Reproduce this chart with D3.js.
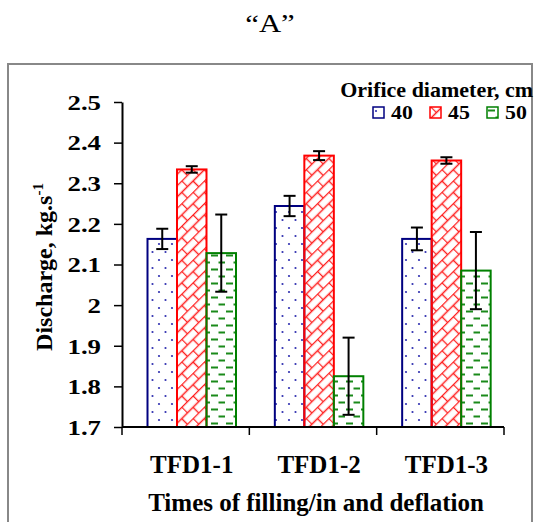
<!DOCTYPE html>
<html>
<head>
<meta charset="utf-8">
<script src="https://cdn.jsdelivr.net/npm/d3@7"></script>
<style>
  body { margin: 0; background: #fff; }
  svg { display: block; }
</style>
</head>
<body>
<script>
// discharge by orifice diameter

var categories = ['TFD1-1', 'TFD1-2', 'TFD1-3'],
    seriesNames = ['40', '45', '50'],
    values40 = [2.163, 2.244, 2.163],
    values45 = [2.334, 2.368, 2.356],
    values50 = [2.128, 1.825, 2.085],
    err40 = [0.025, 0.025, 0.028],
    err45 = [0.008, 0.011, 0.008],
    err50 = [0.095, 0.095, 0.095],
    yTicks = [1.7, 1.8, 1.9, 2, 2.1, 2.2, 2.3, 2.4, 2.5];

var colors = {'40': '#000080', '45': '#ff0000', '50': '#008000'};
var patterns = {'40': 'pDots', '45': 'pBrick', '50': 'pDash'};
var serif = '"Liberation Serif", "Times New Roman", Times, "DejaVu Serif", serif';

var width = 534, height = 522,
    plot = {left: 122, right: 504, top: 102, bottom: 427},
    groupOffset = 25.5, groupWidth = 88.5;

var svg = d3.select('body').append('svg')
  .attr('width', width)
  .attr('height', height)
  .style('font-family', serif);

// patterns
var defs = svg.append('defs');

var pd = defs.append('pattern').attr('id', 'pDots')
  .attr('patternUnits', 'userSpaceOnUse')
  .attr('width', 13).attr('height', 16);
pd.append('circle').attr('cx', 3).attr('cy', 4).attr('r', 1.1).attr('fill', '#3030b0');
pd.append('circle').attr('cx', 9.5).attr('cy', 12).attr('r', 1.1).attr('fill', '#3030b0');

var pb = defs.append('pattern').attr('id', 'pBrick')
  .attr('patternUnits', 'userSpaceOnUse')
  .attr('width', 16).attr('height', 16)
  .attr('patternTransform', 'rotate(-45)');
pb.append('path')
  .attr('d', 'M0,0.5H16M0,8.5H16M0.5,0V8M8.5,8V16')
  .attr('stroke', '#ff2020').attr('stroke-width', 1.4).attr('fill', 'none');

var pg = defs.append('pattern').attr('id', 'pDash')
  .attr('patternUnits', 'userSpaceOnUse')
  .attr('width', 15).attr('height', 14);
pg.append('path')
  .attr('d', 'M1,3.5H8M8.5,10.5H15')
  .attr('stroke', '#1a8a1a').attr('stroke-width', 2).attr('fill', 'none');

// outer frame
svg.append('rect')
  .attr('x', 8).attr('y', 64)
  .attr('width', 524).attr('height', 480)
  .attr('fill', 'none')
  .attr('stroke', '#888').attr('stroke-width', 2);

// title (slightly wide, like the original)
svg.append('text')
  .attr('transform', 'translate(270,32) scale(1.18,1)')
  .attr('text-anchor', 'middle')
  .style('font-family', serif)
  .style('font-size', '26px')
  .text('\u201CA\u201D');

var x0 = d3.scaleBand().domain(categories).range([plot.left, plot.right]);
var x1 = d3.scaleBand().domain(seriesNames).range([0, groupWidth]);
var y = d3.scaleLinear().domain([1.7, 2.5]).range([plot.bottom, plot.top]);

var rows = [];
categories.forEach(function(c, i) {
  rows.push({cat: c, s: '40', v: values40[i], e: err40[i]});
  rows.push({cat: c, s: '45', v: values45[i], e: err45[i]});
  rows.push({cat: c, s: '50', v: values50[i], e: err50[i]});
});

function bx(d) { return x0(d.cat) + groupOffset + x1(d.s); }

var g = svg.append('g');

// bars
g.selectAll('rect.bar').data(rows).enter().append('rect')
  .attr('class', 'bar')
  .attr('x', bx)
  .attr('y', function(d) { return y(d.v); })
  .attr('width', x1.bandwidth())
  .attr('height', function(d) { return y(1.7) - y(d.v); })
  .attr('fill', function(d) { return 'url(#' + patterns[d.s] + ')'; })
  .attr('stroke', function(d) { return colors[d.s]; })
  .attr('stroke-width', 2);

// error bars
var eb = g.selectAll('g.err').data(rows).enter().append('g')
  .attr('class', 'err')
  .attr('stroke', '#000').attr('stroke-width', 2);
eb.append('line')
  .attr('x1', function(d) { return bx(d) + x1.bandwidth() / 2; })
  .attr('x2', function(d) { return bx(d) + x1.bandwidth() / 2; })
  .attr('y1', function(d) { return y(d.v + d.e); })
  .attr('y2', function(d) { return y(d.v - d.e); });
eb.selectAll('line.cap').data(function(d) { return [d.v + d.e, d.v - d.e].map(function(v) { return {d: d, v: v}; }); })
  .enter().append('line')
  .attr('class', 'cap')
  .attr('x1', function(c) { return bx(c.d) + x1.bandwidth() / 2 - 6; })
  .attr('x2', function(c) { return bx(c.d) + x1.bandwidth() / 2 + 6; })
  .attr('y1', function(c) { return y(c.v); })
  .attr('y2', function(c) { return y(c.v); });

// y axis
var yAxis = svg.append('g')
  .attr('transform', 'translate(' + plot.left + ',0)')
  .call(d3.axisLeft(y).tickValues(yTicks).tickSize(8).tickSizeOuter(0)
    .tickFormat(function(d) { return d3.format('')(+d.toFixed(1)); }));
yAxis.attr('font-family', null);
yAxis.select('.domain').attr('stroke', '#000').attr('stroke-width', 2);
yAxis.selectAll('line').attr('stroke', '#000').attr('stroke-width', 1.5);
yAxis.selectAll('text')
  .attr('x', null)
  .attr('dy', '0.33em')
  .attr('transform', 'translate(-21,0) scale(1.22,1)')
  .style('font-family', serif)
  .style('font-size', '22px').style('font-weight', 'bold')
  .attr('fill', '#000');

// x axis
var xAxis = svg.append('g')
  .attr('transform', 'translate(0,' + plot.bottom + ')');
xAxis.append('line')
  .attr('x1', plot.left).attr('x2', plot.right)
  .attr('stroke', '#000').attr('stroke-width', 2);
var bounds = categories.map(function(c) { return x0(c); }).concat([plot.right]);
xAxis.selectAll('line.tick').data(bounds).enter().append('line')
  .attr('class', 'tick')
  .attr('x1', function(d) { return d; }).attr('x2', function(d) { return d; })
  .attr('y1', 0).attr('y2', 8)
  .attr('stroke', '#000').attr('stroke-width', 1.5);
xAxis.selectAll('text').data(categories).enter().append('text')
  .attr('x', function(c) { return x0(c) + groupOffset + groupWidth / 2; })
  .attr('y', 46)
  .attr('text-anchor', 'middle')
  .style('font-family', serif)
  .style('font-size', '25px').style('font-weight', 'bold')
  .text(function(c) { return c; });

// axis titles
svg.append('text')
  .attr('x', 316).attr('y', 511)
  .attr('text-anchor', 'middle')
  .style('font-family', serif)
  .style('font-size', '25px').style('font-weight', 'bold')
  .text('Times of filling/in and deflation');

var yt = svg.append('text')
  .attr('transform', 'translate(52,267) rotate(-90)')
  .attr('text-anchor', 'middle')
  .style('font-family', serif)
  .style('font-size', '24px').style('font-weight', 'bold');
yt.append('tspan').text('Discharge, kg.s');
yt.append('tspan').attr('dy', '-0.6em').style('font-size', '15px').text('-1');

// legend
svg.append('text')
  .attr('x', 533).attr('y', 97)
  .attr('text-anchor', 'end')
  .style('font-family', serif)
  .style('font-size', '22px').style('font-weight', 'bold')
  .text('Orifice diameter, cm');

var legendX = [373, 430, 487];
var lg = svg.selectAll('g.leg').data(seriesNames).enter().append('g')
  .attr('class', 'leg')
  .attr('transform', function(d, i) { return 'translate(' + legendX[i] + ',107)'; });
lg.append('rect')
  .attr('width', 11).attr('height', 11)
  .attr('fill', function(d) { return 'url(#' + patterns[d] + ')'; })
  .attr('stroke', function(d) { return colors[d]; })
  .attr('stroke-width', 1.5);
lg.append('text')
  .attr('transform', 'translate(18,11.5) scale(1.15,1)')
  .style('font-family', serif)
  .style('font-size', '19px').style('font-weight', 'bold')
  .text(function(d) { return d; });
</script>
</body>
</html>
